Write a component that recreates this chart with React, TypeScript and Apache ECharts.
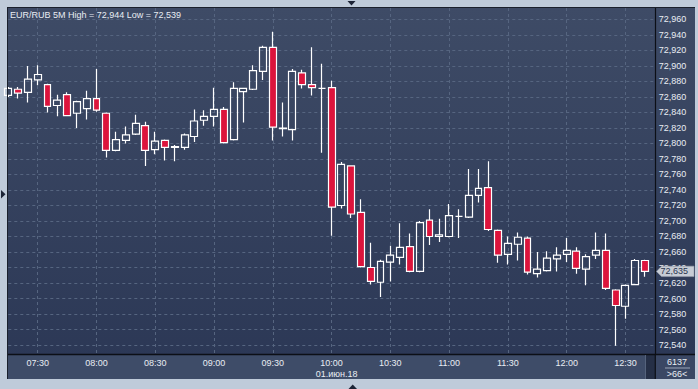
import React, { useEffect, useRef } from 'react';
import * as echarts from 'echarts';

// 5-minute candles, 07:15 .. 12:40 (last category is an empty slot)
const times = [
  '07:15','07:20','07:25','07:30','07:35','07:40','07:45','07:50','07:55',
  '08:00','08:05','08:10','08:15','08:20','08:25','08:30','08:35','08:40','08:45','08:50','08:55',
  '09:00','09:05','09:10','09:15','09:20','09:25','09:30','09:35','09:40','09:45','09:50','09:55',
  '10:00','10:05','10:10','10:15','10:20','10:25','10:30','10:35','10:40','10:45','10:50','10:55',
  '11:00','11:05','11:10','11:15','11:20','11:25','11:30','11:35','11:40','11:45','11:50','11:55',
  '12:00','12:05','12:10','12:15','12:20','12:25','12:30','12:35','12:40','12:45',
];

const opens = [
  72.862, 72.870, 72.866, 72.882, 72.876, 72.849, 72.863, 72.839, 72.845, 72.858,
  72.839, 72.791, 72.804, 72.812, 72.823, 72.792, 72.804, 72.795, 72.795, 72.809,
  72.830, 72.835, 72.844, 72.805, 72.867, 72.870, 72.893, 72.924, 72.819, 72.818,
  72.891, 72.876, 72.871, 72.872, 72.720, 72.771, 72.711, 72.640, 72.621, 72.647,
  72.653, 72.667, 72.635, 72.701, 72.680, 72.680, 72.706, 72.705, 72.733, 72.743,
  72.688, 72.657, 72.670, 72.678, 72.632, 72.636, 72.651, 72.657, 72.661, 72.638,
  72.656, 72.662, 72.611, 72.590, 72.618, 72.649,
];
const closes = [
  72.871, 72.865, 72.883, 72.889, 72.848, 72.856, 72.836, 72.854, 72.858, 72.843,
  72.791, 72.805, 72.811, 72.826, 72.791, 72.803, 72.795, 72.796, 72.811, 72.829,
  72.835, 72.844, 72.801, 72.871, 72.871, 72.894, 72.924, 72.821, 72.820, 72.893,
  72.876, 72.872, 72.871, 72.718, 72.773, 72.709, 72.641, 72.622, 72.648, 72.656,
  72.666, 72.635, 72.698, 72.680, 72.682, 72.707, 72.706, 72.733, 72.742, 72.689,
  72.656, 72.671, 72.679, 72.634, 72.638, 72.652, 72.656, 72.662, 72.639, 72.654,
  72.662, 72.613, 72.591, 72.617, 72.649, 72.635,
];
const lows = [
  72.860, 72.858, 72.853, 72.875, 72.840, 72.835, 72.835, 72.820, 72.831, 72.841,
  72.782, 72.790, 72.800, 72.811, 72.771, 72.786, 72.778, 72.777, 72.792, 72.802,
  72.823, 72.822, 72.800, 72.804, 72.827, 72.869, 72.882, 72.804, 72.809, 72.804,
  72.871, 72.862, 72.788, 72.681, 72.716, 72.704, 72.640, 72.618, 72.602, 72.622,
  72.644, 72.634, 72.634, 72.669, 72.673, 72.679, 72.678, 72.704, 72.724, 72.687,
  72.646, 72.644, 72.649, 72.631, 72.627, 72.635, 72.635, 72.647, 72.632, 72.617,
  72.651, 72.611, 72.539, 72.574, 72.617, 72.628,
];
const highs = [
  72.873, 72.873, 72.900, 72.901, 72.877, 72.863, 72.866, 72.855, 72.868, 72.896,
  72.840, 72.815, 72.822, 72.837, 72.828, 72.815, 72.805, 72.798, 72.813, 72.844,
  72.843, 72.872, 72.847, 72.879, 72.872, 72.901, 72.926, 72.944, 72.853, 72.896,
  72.895, 72.924, 72.903, 72.881, 72.776, 72.772, 72.728, 72.672, 72.650, 72.668,
  72.697, 72.684, 72.700, 72.715, 72.703, 72.722, 72.715, 72.767, 72.767, 72.777,
  72.689, 72.680, 72.685, 72.680, 72.660, 72.661, 72.666, 72.678, 72.666, 72.657,
  72.685, 72.684, 72.612, 72.618, 72.651, 72.650,
];

const yTicks = [
  72.54, 72.56, 72.58, 72.60, 72.62, 72.64, 72.66, 72.68, 72.70, 72.72, 72.74,
  72.76, 72.78, 72.80, 72.82, 72.84, 72.86, 72.88, 72.90, 72.92, 72.94, 72.96,
];

const symbolName = 'EUR/RUB';
const period = '5M';
const volumeText = '6137';
const dateLabel = '01.июн.18';
const dateAt = '10:00';

const yMin = 72.5284;
const yMax = 72.9748;

const FONT = 'Liberation Sans, Arial, sans-serif';
const TXT = '#e9edf3';
const GRIDC = '#566580';

const fmt = (v: number) => v.toFixed(3).replace('.', ',');
const isMajor = (_i: number, v: string) => v.endsWith(':00') || v.endsWith(':30');

export default function App() {
  const ref = useRef<HTMLDivElement>(null);
  useEffect(() => {
    if (!ref.current) return;
    const chart = echarts.init(ref.current, undefined, { renderer: 'svg' });
    const candles = opens.map((o, i) => [o, closes[i], lows[i], highs[i]]);
    const hi = Math.max(...highs);
    const lo = Math.min(...lows);
    const last = closes[closes.length - 1];

    const staticGraphics: any[] = [
      // dark panel
      {
        type: 'rect', z: -10, silent: true,
        shape: { x: 8, y: 8, width: 687, height: 371 },
        style: {
          fill: new echarts.graphic.LinearGradient(0, 0, 0, 1, [
            { offset: 0, color: '#3e4b66' },
            { offset: 1, color: '#2b3755' },
          ]),
        },
      },
      { type: 'rect', z: -9, silent: true, shape: { x: 8, y: 354.5, width: 637.5, height: 24.5 }, style: { fill: '#3e4c68' } },
      { type: 'rect', z: -9, silent: true, shape: { x: 645.5, y: 354.5, width: 9.5, height: 24.5 }, style: { fill: '#252f46' } },
      { type: 'rect', z: -9, silent: true, shape: { x: 655, y: 354.5, width: 40, height: 24.5 }, style: { fill: '#3a4764' } },
      // frame lines
      { type: 'line', z: 20, silent: true, shape: { x1: 7, y1: 7.5, x2: 695, y2: 7.5 }, style: { stroke: '#1a202c', lineWidth: 1 } },
      { type: 'line', z: 20, silent: true, shape: { x1: 7.5, y1: 7, x2: 7.5, y2: 379 }, style: { stroke: '#1a202c', lineWidth: 1 } },
      { type: 'line', z: 20, silent: true, shape: { x1: 8, y1: 354.5, x2: 695, y2: 354.5 }, style: { stroke: '#0c0f16', lineWidth: 1.5 } },
      { type: 'line', z: 20, silent: true, shape: { x1: 655.3, y1: 354, x2: 655.3, y2: 379 }, style: { stroke: '#0c0f16', lineWidth: 1.2 } },
      { type: 'line', z: 20, silent: true, shape: { x1: 645.5, y1: 355, x2: 645.5, y2: 379 }, style: { stroke: '#55637c', lineWidth: 1 } },
      // bottom-right cell
      { type: 'text', z: 20, silent: true, x: 677, y: 361.5, style: { text: volumeText, fill: TXT, font: `9px ${FONT}`, align: 'center', verticalAlign: 'middle' } },
      { type: 'line', z: 20, silent: true, shape: { x1: 665, y1: 368, x2: 690, y2: 368 }, style: { stroke: '#9aa6b8', lineWidth: 1 } },
      { type: 'text', z: 20, silent: true, x: 677, y: 373.5, style: { text: `>${opens.length}<`, fill: TXT, font: `9px ${FONT}`, align: 'center', verticalAlign: 'middle' } },
      // small triangles on the frame
      { type: 'polygon', z: 20, silent: true, shape: { points: [[347.5, 1], [355.5, 1], [351.5, 5.5]] }, style: { fill: '#1c2436' } },
      { type: 'polygon', z: 20, silent: true, shape: { points: [[1, 190], [1, 198.5], [5.5, 194.2]] }, style: { fill: '#1c2436' } },
      { type: 'polygon', z: 20, silent: true, shape: { points: [[348.5, 389], [357, 389], [352.7, 384.5]] }, style: { fill: '#1c2436' } },
    ];

    const option: any = {
      animation: false,
      backgroundColor: '#bfcbda',
      title: {
        text: `${symbolName} ${period} High = ${fmt(hi)} Low = ${fmt(lo)}`,
        left: 10, top: 10, padding: 0,
        textStyle: { color: TXT, fontSize: 9, fontWeight: 'normal', fontFamily: FONT },
      },
      grid: { left: 8.3, right: 43.2, top: 8, bottom: 35, containLabel: false },
      xAxis: {
        type: 'category',
        data: times,
        boundaryGap: false,
        axisLine: { show: true, lineStyle: { color: '#0c0f16', width: 1 } },
        axisTick: { show: false },
        axisLabel: {
          interval: isMajor,
          color: TXT, fontSize: 9, fontFamily: FONT, margin: 3, lineHeight: 11,
          formatter: (v: string) => (v === dateAt ? `{t|${v}}\n{d|${dateLabel}}` : v),
          rich: {
            t: { color: TXT, fontSize: 9, fontFamily: FONT, lineHeight: 11 },
            d: { color: TXT, fontSize: 9, fontFamily: FONT, lineHeight: 11, padding: [0, 0, 0, 10] },
          },
        },
        splitLine: { show: true, interval: isMajor, lineStyle: { color: GRIDC, width: 1, type: [3, 3] } },
      },
      yAxis: {
        type: 'value',
        position: 'right',
        min: yMin,
        max: yMax,
        axisLine: { show: true, lineStyle: { color: '#0c0f16', width: 1.2 } },
        axisTick: { show: false, customValues: yTicks },
        axisLabel: { customValues: yTicks, formatter: (v: number) => fmt(v), color: TXT, fontSize: 9, fontFamily: FONT, margin: 4 },
        splitLine: { show: true, lineStyle: { color: GRIDC, width: 1, type: [3, 3] } },
      },
      series: [
        {
          type: 'candlestick',
          data: candles,
          barWidth: 7.4,
          itemStyle: {
            color: 'rgba(0,0,0,0)',
            color0: '#dc143c',
            borderColor: '#ffffff',
            borderColor0: '#ffffff',
            borderWidth: 1.2,
          },
        },
      ],
      graphic: staticGraphics,
    };
    chart.setOption(option);

    const p = chart.convertToPixel({ xAxisIndex: 0, yAxisIndex: 0 }, [times[opens.length - 1], last]);
    const py = p[1];
    chart.setOption({
      graphic: [
        ...staticGraphics,
        {
          type: 'polygon', z: 30, silent: true,
          shape: { points: [[656.5, py], [661.5, py - 5.2], [694, py - 5.2], [694, py + 5.2], [661.5, py + 5.2]] },
          style: { fill: '#c7ccd5', stroke: '#9aa2b0', lineWidth: 0.6 },
        },
        {
          type: 'text', z: 31, silent: true, x: 660.5, y: py,
          style: { text: fmt(last), fill: '#2a3550', font: `9px ${FONT}`, align: 'left', verticalAlign: 'middle' },
        },
      ],
    });

    return () => chart.dispose();
  }, []);
  return <div ref={ref} style={{ position: 'fixed', left: 0, top: 0, width: 698, height: 389 }} />;
}
